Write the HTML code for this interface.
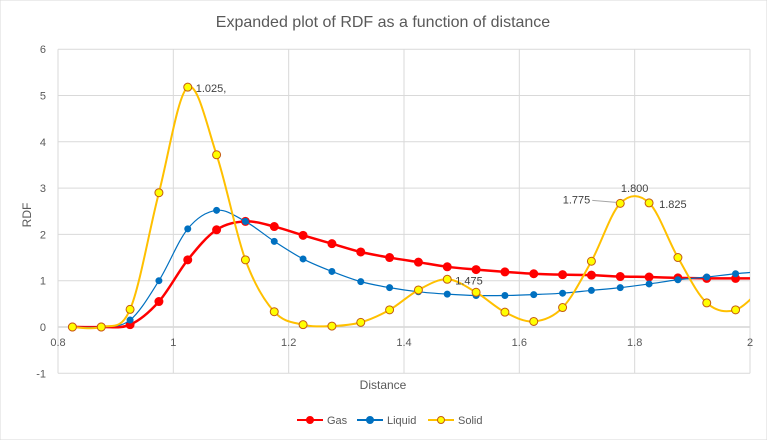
<!DOCTYPE html>
<html><head><meta charset="utf-8"><style>
body{margin:0;background:#fff;}
svg{display:block;font-family:"Liberation Sans",sans-serif;}
</style></head><body>
<svg id="chart" width="767" height="440">
<rect x="0" y="0" width="767" height="440" fill="#fff" stroke="#d9d9d9"/>
<text x="383" y="27" text-anchor="middle" font-size="16" fill="#595959">Expanded plot of RDF as a function of distance</text>
<g id="grid"></g><g id="axes"></g>
<defs><clipPath id="clip"><rect x="58" y="40" width="692" height="340"/></clipPath></defs>
<g id="series" clip-path="url(#clip)"></g><g id="labels"></g>
<text x="383" y="389" text-anchor="middle" font-size="12" fill="#595959">Distance</text>
<text x="31" y="215" text-anchor="middle" font-size="12" fill="#595959" transform="rotate(-90 31 215)">RDF</text>
<g id="legend"></g>
</svg>
<script>
const xs=[0.825,0.875,0.925,0.975,1.025,1.075,1.125,1.175,1.225,1.275,1.325,1.375,1.425,1.475,1.525,1.575,1.625,1.675,1.725,1.775,1.825,1.875,1.925,1.975,2.025];
const gas=[0,0,0.05,0.55,1.45,2.1,2.28,2.17,1.98,1.8,1.62,1.5,1.4,1.3,1.24,1.19,1.15,1.13,1.12,1.09,1.08,1.06,1.05,1.05,1.05];
const liquid=[0,0,0.15,1.0,2.12,2.52,2.28,1.85,1.47,1.2,0.98,0.85,0.76,0.71,0.68,0.68,0.7,0.73,0.79,0.85,0.93,1.02,1.08,1.15,1.2];
const solid=[0,0,0.38,2.9,5.18,3.72,1.45,0.33,0.05,0.02,0.1,0.37,0.8,1.03,0.75,0.32,0.12,0.42,1.42,2.67,2.68,1.5,0.52,0.37,0.9];
const xTicks=[0.8,1,1.2,1.4,1.6,1.8,2];
const xTickLabels=["0.8","1","1.2","1.4","1.6","1.8","2"];
const yTicks=[-1,0,1,2,3,4,5,6];
const NS="http://www.w3.org/2000/svg";
const X=v=>58+(v-0.8)/1.2*692;
const Y=v=>327-v*46.3;
function mk(t,a,p){const e=document.createElementNS(NS,t);for(const k in a)e.setAttribute(k,a[k]);p.appendChild(e);return e;}
const grid=document.getElementById('grid'),axes=document.getElementById('axes');
yTicks.forEach(v=>{const l=mk('line',{x1:58,x2:750,y1:Y(v),y2:Y(v),stroke:v===0?'#bfbfbf':'#d9d9d9'},grid);


const t=mk('text',{x:46,y:Y(v)+4,'text-anchor':'end','font-size':11,fill:'#595959'},axes);t.textContent=v;

});
xTicks.forEach((v,i)=>{const l=mk('line',{x1:X(v),x2:X(v),y1:Y(6),y2:Y(-1),stroke:'#d9d9d9'},grid);


const t=mk('text',{x:X(v),y:346,'text-anchor':'middle','font-size':11,fill:'#595959'},axes);t.textContent=xTickLabels[i];

});
function smooth(pts){let d='M'+pts[0][0]+','+pts[0][1];for(let i=0;i<pts.length-1;i++){const p0=pts[i-1]||pts[i],p1=pts[i],p2=pts[i+1],p3=pts[i+2]||p2;
const c1=[p1[0]+(p2[0]-p0[0])/6,p1[1]+(p2[1]-p0[1])/6],c2=[p2[0]-(p3[0]-p1[0])/6,p2[1]-(p3[1]-p1[1])/6];
d+=' C'+c1+' '+c2+' '+p2;}return d;}
const ser=document.getElementById('series');
function draw(vals,name,col,w,r,fill,stroke){const pts=xs.map((x,i)=>[X(x),Y(vals[i])]);
const p=mk('path',{d:smooth(pts),fill:'none',stroke:col,'stroke-width':w},ser);


pts.forEach(q=>{const c=mk('circle',{cx:q[0],cy:q[1],r:r,fill:fill,stroke:stroke,'stroke-width':1},ser);

});}
draw(gas,'gas','#ff0000',2.5,4,'#ff0000','#ff0000');
draw(liquid,'liquid','#0070c0',1.2,3,'#0070c0','#0070c0');
draw(solid,'solid','#ffc000',2,4,'#ffff00','#c55a11');
const lab=document.getElementById('labels');
[[1.025,5.18,'1.025,',8,5,'start'],[1.475,1.03,'1.475',8,5,'start'],[1.775,2.67,'1.775',-30,0,'end'],[1.8,2.85,'1.800',0,-3,'middle'],[1.825,2.68,'1.825',10,5,'start']].forEach(a=>{
const t=mk('text',{x:X(a[0])+a[3],y:Y(a[1])+a[4],'text-anchor':a[5],'font-size':11,fill:'#404040'},lab);t.textContent=a[2];

});
const ll=mk('line',{x1:X(1.775)-28,y1:Y(2.67)-3,x2:X(1.775)-4,y2:Y(2.67)-1,stroke:'#a6a6a6'},lab);


const leg=document.getElementById('legend');
[['Gas','#ff0000','#ff0000','#ff0000',297],['Liquid','#0070c0','#0070c0','#0070c0',357],['Solid','#ffc000','#ffff00','#c55a11',428]].forEach(a=>{
const g=mk('g',{},leg);


mk('line',{x1:a[4],x2:a[4]+26,y1:420,y2:420,stroke:a[1],'stroke-width':2},g);
mk('circle',{cx:a[4]+13,cy:420,r:3.5,fill:a[2],stroke:a[3]},g);
const t=mk('text',{x:a[4]+30,y:424,'font-size':11,fill:'#595959'},g);t.textContent=a[0];});
</script>
</body></html>
